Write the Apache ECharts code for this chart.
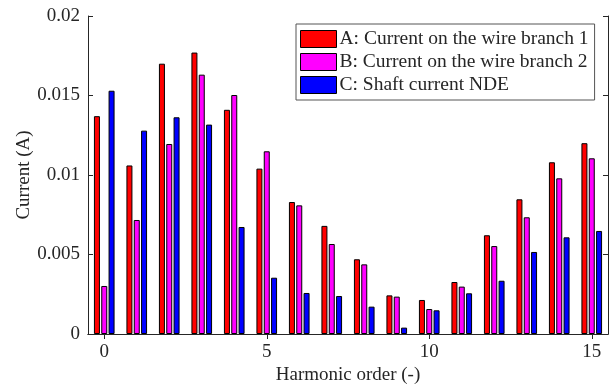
<!DOCTYPE html>
<html>
<head>
<meta charset="utf-8">
<script src="https://cdn.jsdelivr.net/npm/echarts@6/dist/echarts.min.js"></script>
<style>
  html, body { margin: 0; padding: 0; background: #fff; }
  #chart { width: 611px; height: 387px; }
</style>
</head>
<body>
<div id="chart"></div>
<script>
const harmonics = ["0","1","2","3","4","5","6","7","8","9","10","11","12","13","14","15"];
const branch1 = [0.0137, 0.0106, 0.0170, 0.0177, 0.0141, 0.0104, 0.0083, 0.0068, 0.0047, 0.00243, 0.00214, 0.00327, 0.00621, 0.00847, 0.0108, 0.0120];
const branch2 = [0.00302, 0.00717, 0.01195, 0.01631, 0.01503, 0.01149, 0.00809, 0.00566, 0.00438, 0.00235, 0.00157, 0.00298, 0.00553, 0.00734, 0.00979, 0.01105];
const shaftNDE = [0.0153, 0.01279, 0.01363, 0.01317, 0.00673, 0.00354, 0.00258, 0.00239, 0.00172, 0.0004, 0.00149, 0.00256, 0.00335, 0.00516, 0.00608, 0.00648];
const seriesNames = ["A: Current on the wire branch 1", "B: Current on the wire branch 2", "C: Shaft current NDE"];
const seriesColors = ["#ff0000", "#ff00ff", "#0000ff"];

const font = "Liberation Serif";
const textColor = "#262626";
const chart = echarts.init(document.getElementById("chart"));

// MATLAB-style box: ticks inside on all four sides
const boxAxisLine = { show: true, lineStyle: { color: textColor, width: 1 } };
const innerTick = { show: true, inside: true, length: 5, lineStyle: { color: textColor } };

const option = {
  animation: false,
  textStyle: { fontFamily: font },
  grid: { left: 88, right: 3, top: 16, bottom: 53, outerBoundsMode: "none" },
  legend: {
    orient: "vertical",
    left: 296,
    top: 24,
    padding: [5, 6, 5, 4],
    itemWidth: 36,
    itemHeight: 17,
    itemGap: 3,
    backgroundColor: "#fff",
    borderColor: "#555",
    borderWidth: 1,
    textStyle: { fontFamily: font, fontSize: 19.5, color: textColor, padding: [0, 0, 0, -2] },
    data: seriesNames.map((n, i) => ({
      name: n,
      icon: "rect",
      itemStyle: { color: seriesColors[i], borderColor: "#000", borderWidth: 1 }
    }))
  },
  xAxis: [
    {
      type: "category",
      data: harmonics,
      boundaryGap: true,
      name: "Harmonic order (-)",
      nameLocation: "middle",
      nameGap: 32,
      nameMoveOverlap: false,
      nameTextStyle: { fontFamily: font, fontSize: 19, color: textColor },
      axisLine: boxAxisLine,
      axisTick: Object.assign({ alignWithLabel: true, interval: 4 }, innerTick),
      axisLabel: { interval: 4, fontFamily: font, fontSize: 19, color: textColor, margin: 9 },
      splitLine: { show: false }
    },
    {
      type: "category",
      data: harmonics,
      position: "top",
      boundaryGap: true,
      axisLine: boxAxisLine,
      axisTick: Object.assign({ alignWithLabel: true, interval: 4 }, innerTick),
      axisLabel: { show: false },
      splitLine: { show: false }
    }
  ],
  yAxis: [
    {
      type: "value",
      min: 0,
      max: 0.02,
      interval: 0.005,
      name: "Current (A)",
      nameLocation: "middle",
      nameGap: 54,
      nameMoveOverlap: false,
      nameTextStyle: { fontFamily: font, fontSize: 19, color: textColor },
      axisLine: boxAxisLine,
      axisTick: innerTick,
      axisLabel: { fontFamily: font, fontSize: 19, color: textColor, margin: 8 },
      splitLine: { show: false }
    },
    {
      type: "value",
      min: 0,
      max: 0.02,
      interval: 0.005,
      position: "right",
      axisLine: boxAxisLine,
      axisTick: innerTick,
      axisLabel: { show: false },
      splitLine: { show: false }
    }
  ],
  series: [branch1, branch2, shaftNDE].map((d, i) => ({
    name: seriesNames[i],
    type: "bar",
    data: d,
    barWidth: 6,
    barGap: "22%",
    itemStyle: { color: seriesColors[i], borderColor: "#000", borderWidth: 1 }
  }))
};

chart.setOption(option);
</script>
</body>
</html>
